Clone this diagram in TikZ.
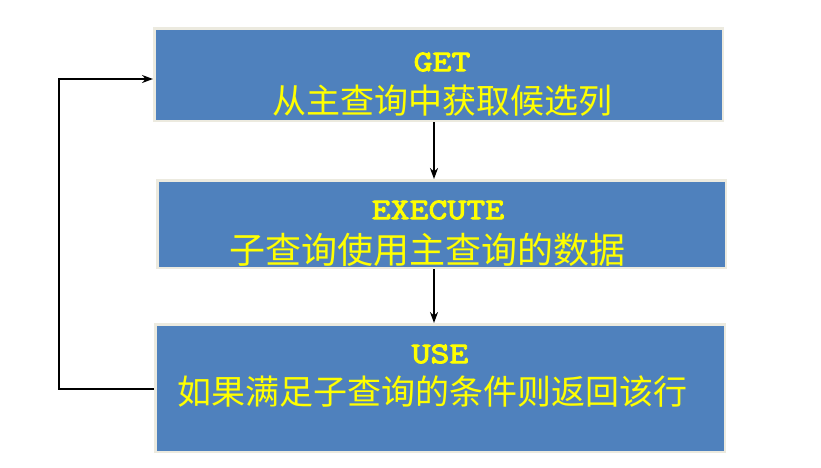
\documentclass[tikz,border=0pt]{standalone}
\usepackage{fontspec}
\newfontfamily\cjk{Noto Sans CJK SC}
\newfontfamily\monob[Extension=.otf, FakeBold=3, FakeStretch=1.2]{lmmono10-regular}
\usetikzlibrary{arrows.meta}
\definecolor{boxblue}{HTML}{4F81BD}
\definecolor{boxedge}{HTML}{ECEADF}
\definecolor{txtyellow}{HTML}{FFFF00}
\tikzset{
  flowbox/.style={rectangle, fill=boxblue, draw=boxedge, line width=2.5pt, inner sep=0pt},
  titletext/.style={text=txtyellow, inner sep=0pt, font=\monob\fontsize{30}{30}\selectfont},
  cjktext/.style={text=txtyellow, inner sep=0pt, font=\cjk\fontsize{34}{34}\selectfont},
  arr/.style={draw=black, line width=2pt, -{Stealth[length=11pt,width=8pt]}},
}
\begin{document}
\begin{tikzpicture}[x=1pt,y=-1pt]
\useasboundingbox (0,0) rectangle (821,467);
\node[flowbox, minimum width=568.5pt, minimum height=92.5pt] (b1) at (438.5,74.5) {};
\node[flowbox, minimum width=568.5pt, minimum height=87.5pt] (b2) at (441.5,224) {};
\node[flowbox, minimum width=569.5pt, minimum height=127.5pt] (b3) at (440,388) {};
\node[titletext] (t1) at (442,62) {GET};
\node[cjktext] (c1) at (442,101) {从主查询中获取候选列};
\node[titletext] (t2) at (438,210) {EXECUTE};
\node[cjktext, font=\cjk\fontsize{36}{36}\selectfont] (c2) at (427,250) {子查询使用主查询的数据};
\node[titletext] (t3) at (440,354) {USE};
\node[cjktext] (c3) at (432,392) {如果满足子查询的条件则返回该行};
\coordinate (L1) at (59,79);
\draw[arr] ([xshift=-4.5pt]b1.south) -- ([xshift=-4.5pt]b1.south |- b2.north);
\draw[arr] ([xshift=-7.5pt]b2.south) -- ([xshift=-7.5pt]b2.south |- b3.north);
\draw[arr] ([yshift=-1pt]b3.west) -| (L1) -- (b1.west |- L1);
\end{tikzpicture}
\end{document}
